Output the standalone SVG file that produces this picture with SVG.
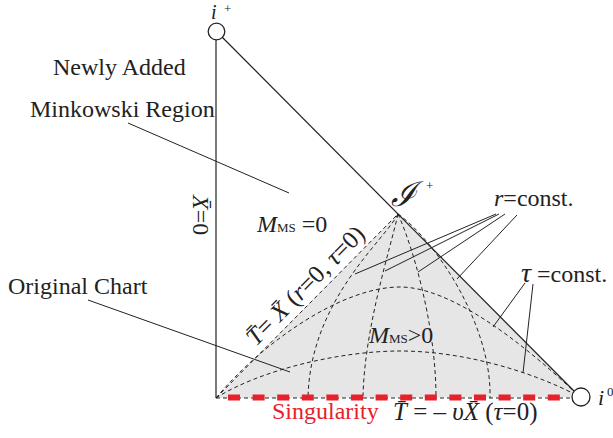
<svg xmlns="http://www.w3.org/2000/svg" width="613" height="438" viewBox="0 0 613 438">
<style>
text{font-family:"Liberation Serif","Times New Roman",serif;fill:#222}
.i{font-style:italic}
.dash{fill:none;stroke:#222;stroke-width:1;stroke-dasharray:4 3}
.solid{fill:none;stroke:#222;stroke-width:1.2}
.lead{fill:none;stroke:#222;stroke-width:1}
.pt{fill:#fff;stroke:#222;stroke-width:1.3}
</style>
<rect width="613" height="438" fill="#fff"/>
<g id="region-original">
<polygon points="216,398 398,214 580,397" fill="#e6e6e7"/>
</g>
<g id="connectors">
<path class="dash" d="M216,398 L398,214"/>
<path class="dash" d="M216,398 L572,398"/>
<path class="dash" d="M398,214 C385,240 310,300 308,398"/>
<path class="dash" d="M398,214 C390,250 364,330 363,398"/>
<path class="dash" d="M398,214 C410,240 436,320 436,398"/>
<path class="dash" d="M398,214 C435,240 492,325 490,398"/>
<path class="dash" d="M216,398 C260,345 340,287 400,287 C450,287 520,340 580,397"/>
<path class="dash" d="M216,398 C260,370 340,351 400,351 C460,351 530,370 580,397"/>
<path class="solid" d="M216,40 L216,398"/>
<path class="solid" d="M222,37 L574,391"/>
<path class="lead" d="M128,123 L289,193"/>
<path class="lead" d="M88,300 L290,372"/>
<path class="lead" d="M496,214 L355,274 M499,214 L385,271 M505,214 L418,272 M517,215 L457,279"/>
<path class="lead" d="M525,283 L493,327 M533,284 L523,373"/>
<path d="M228,397.5 L574,397.5" stroke="#e8202a" stroke-width="6" stroke-dasharray="12 12.6" fill="none"/>
</g>
<g id="i-plus">
<circle class="pt" cx="216.5" cy="31.5" r="8.3"/>
<text x="211" y="19" font-size="20" class="i">i</text>
<text x="224" y="13" font-size="13">+</text>
</g>
<g id="i-zero">
<circle class="pt" cx="581" cy="397" r="9"/>
<text x="598" y="405" font-size="22" class="i">i</text>
<text x="607" y="396" font-size="13">0</text>
</g>
<g id="scri-plus">
<text x="391" y="206" font-size="34" style="font-family:'DejaVu Serif',serif;font-style:italic">ℐ</text>
<text x="426" y="190" font-size="13">+</text>
</g>
<g id="labels">
<text x="53" y="75" font-size="24">Newly Added</text>
<text x="30" y="117" font-size="24">Minkowski Region</text>
<text x="8" y="294" font-size="24">Original Chart</text>
<text transform="translate(193,195) rotate(90)" font-size="24"><tspan class="i">X̄</tspan>=0</text>
<text x="257" y="232" font-size="24"><tspan class="i">M</tspan><tspan font-size="13">MS</tspan> =0</text>
<text x="369" y="343" font-size="24"><tspan class="i">M</tspan><tspan font-size="13">MS</tspan>&gt;0</text>
<text x="494" y="206" font-size="24"><tspan class="i">r</tspan>=const.</text>
<text x="521" y="282" font-size="24"><tspan class="i" font-size="28">τ</tspan> =const.</text>
<text transform="translate(256,347) rotate(-45.3)" font-size="25"><tspan class="i">T̄</tspan>= <tspan class="i">X̄</tspan> (<tspan class="i">r</tspan>=0, <tspan class="i">τ</tspan>=0)</text>
<text x="272" y="419" font-size="24" style="fill:#e8202a">Singularity</text>
<text x="393" y="420" font-size="25"><tspan class="i">T̄</tspan> = – <tspan class="i">υX̄</tspan> (<tspan class="i">τ</tspan>=0)</text>
</g>
</svg>
